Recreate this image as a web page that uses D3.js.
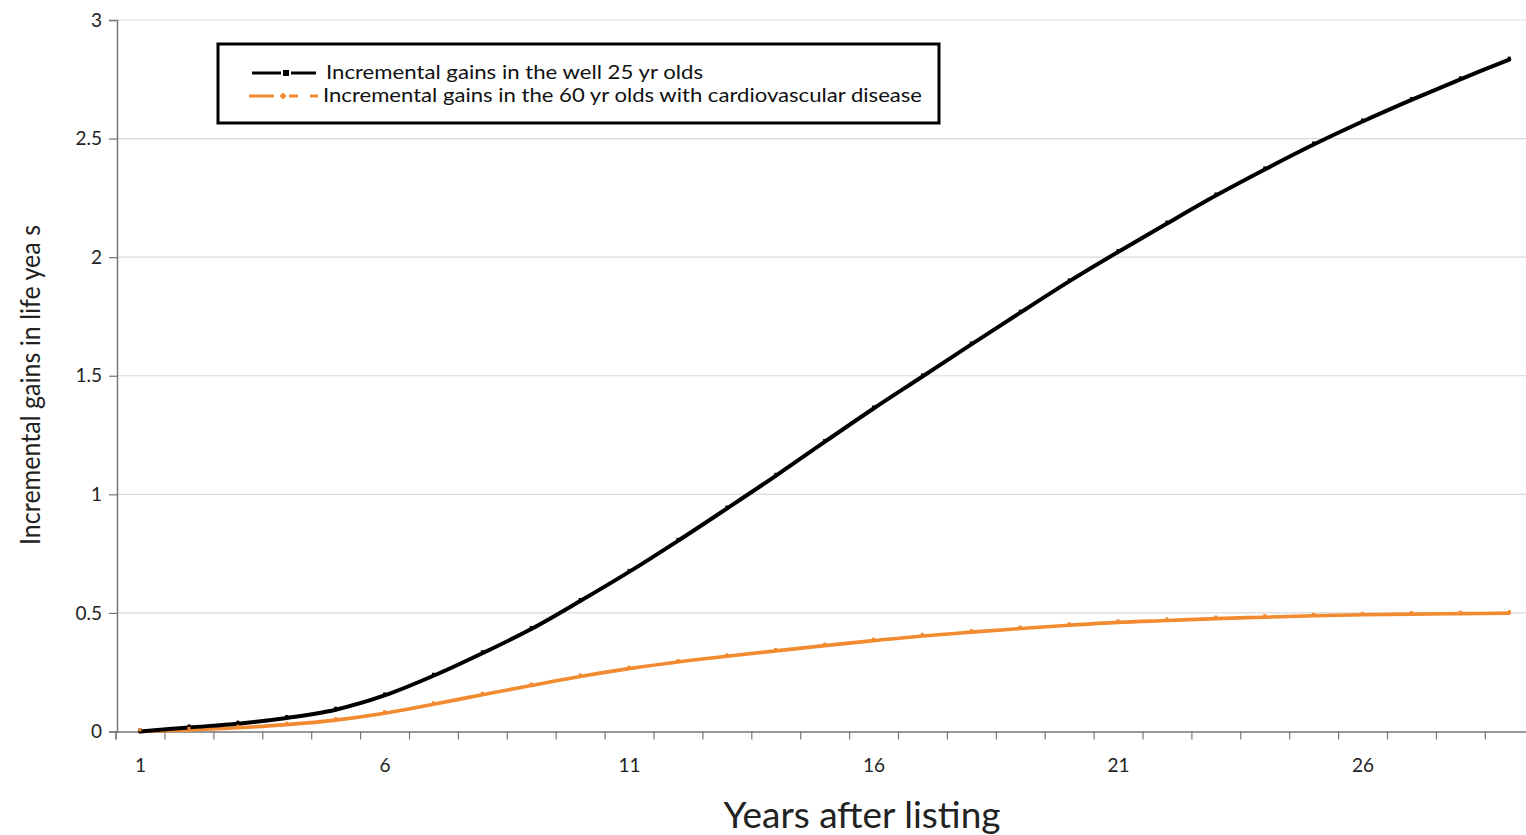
<!DOCTYPE html>
<html>
<head>
<meta charset="utf-8">
<script src="https://cdn.jsdelivr.net/npm/d3@7"></script>
<style>
  body { margin: 0; background: #fff; }
  svg { display: block; }
</style>
</head>
<body>
<svg width="1526" height="835"></svg>
<script>
// years after listing (categories)
let years = d3.range(1, 30);
// well 25 yr olds
let wellGains = [0, 0.017, 0.033, 0.057, 0.092, 0.152, 0.235, 0.33, 0.432, 0.55,
  0.673, 0.804, 0.94, 1.078, 1.221, 1.362, 1.497, 1.632, 1.766, 1.898,
  2.022, 2.142, 2.26, 2.37, 2.475, 2.572, 2.663, 2.75, 2.833];
// 60 yr olds with cardiovascular disease
let cvdGains = [0, 0.007, 0.016, 0.029, 0.048, 0.077, 0.115, 0.155, 0.194, 0.232,
  0.265, 0.293, 0.317, 0.34, 0.362, 0.383, 0.403, 0.419, 0.434, 0.448,
  0.46, 0.468, 0.476, 0.482, 0.488, 0.492, 0.495, 0.497, 0.499];
let yTicks = [0, 0.5, 1, 1.5, 2, 2.5, 3];
let xLabels = [1, 6, 11, 16, 21, 26];
let legendLabels = [
  "Incremental gains in the well 25 yr olds",
  "Incremental gains in the 60 yr olds with cardiovascular disease"
];

let svg = d3.select("svg");
let font = "Lato, 'Open Sans', sans-serif";

let plotLeft = 117, plotTop = 20, plotBottom = 731.5;
let step = 48.9;

let x = d3.scaleLinear().domain([0.5, 29.5]).range([plotLeft - 1.4, plotLeft - 1.4 + 29 * step]);
let y = d3.scaleLinear().domain([0, 3]).range([plotBottom, plotTop]);

// gridlines
svg.append("g")
  .selectAll("line")
  .data(yTicks.slice(1))
  .enter()
  .append("line")
  .attr("x1", plotLeft).attr("x2", 1526)
  .attr("y1", (d) => y(d)).attr("y2", (d) => y(d))
  .attr("stroke", "#d9d9d9")
  .attr("stroke-width", 1.2);

// y axis
let yAxis = svg.append("g")
  .attr("transform", `translate(${plotLeft},0)`)
  .call(d3.axisLeft(y).tickValues(yTicks).tickSize(8).tickFormat(d3.format("")));
yAxis.select(".domain").attr("stroke", "#777").attr("stroke-width", 1.5);
yAxis.selectAll(".tick line").attr("stroke", "#777").attr("stroke-width", 1.2);
yAxis.selectAll(".tick text")
  .attr("font-family", font).attr("font-size", 19).attr("fill", "#222").attr("x", -15);

// x axis: ticks at category edges
let xAxis = svg.append("g")
  .attr("transform", `translate(0,${plotBottom})`)
  .call(d3.axisBottom(x).tickValues(d3.range(0.5, 29, 1)).tickSize(8).tickFormat(""));
xAxis.select(".domain").attr("stroke", "#777").attr("stroke-width", 1.5);
xAxis.selectAll(".tick line").attr("stroke", "#777").attr("stroke-width", 1.2);

let xLab = svg.append("g")
  .attr("transform", `translate(0,${plotBottom})`)
  .call(d3.axisBottom(x).tickValues(xLabels).tickSize(0).tickPadding(27));
xLab.select(".domain").remove();
xLab.selectAll(".tick text")
  .attr("font-family", font).attr("font-size", 19).attr("fill", "#222");

// axis titles
svg.append("text")
  .attr("transform", "translate(40,385) rotate(-90)")
  .attr("text-anchor", "middle")
  .attr("font-family", font)
  .attr("font-size", 26)
  .attr("fill", "#222")
  .attr("textLength", 320)
  .attr("lengthAdjust", "spacingAndGlyphs")
  .text("Incremental gains in life yea s");

svg.append("text")
  .attr("x", 862).attr("y", 828)
  .attr("text-anchor", "middle")
  .attr("font-family", font)
  .attr("font-size", 36)
  .attr("fill", "#222")
  .attr("textLength", 277)
  .attr("lengthAdjust", "spacingAndGlyphs")
  .text("Years after listing");

// series
let series = [
  { name: legendLabels[0], values: wellGains, color: "#000000", width: 4 },
  { name: legendLabels[1], values: cvdGains, color: "#f28a30", width: 3.6 }
];

let line = d3.line()
  .x((d, i) => x(years[i]))
  .y((d) => y(d))
  .curve(d3.curveCatmullRom.alpha(0.5));

svg.append("g")
  .selectAll("path")
  .data(series.slice().reverse())
  .enter()
  .append("path")
  .attr("d", (d) => line(d.values))
  .attr("fill", "none")
  .attr("stroke", (d) => d.color)
  .attr("stroke-width", (d) => d.width)
  .attr("stroke-linejoin", "round")
  .attr("stroke-linecap", "round");

// small markers
series.forEach((s) => {
  svg.append("g")
    .selectAll("rect")
    .data(s.values)
    .enter()
    .append("rect")
    .attr("x", (d, i) => x(years[i]) - 1.5)
    .attr("y", (d) => y(d) - 3)
    .attr("width", 3).attr("height", 3)
    .attr("fill", s.color);
});

// legend
let legend = svg.append("g");
legend.append("rect")
  .attr("x", 218).attr("y", 44)
  .attr("width", 721).attr("height", 79)
  .attr("fill", "#fff")
  .attr("stroke", "#000")
  .attr("stroke-width", 3);

let rows = legend.selectAll(".row")
  .data(series)
  .enter()
  .append("g")
  .attr("class", "row")
  .attr("transform", (d, i) => `translate(0,${73 + i * 23})`);

// line samples
rows.each(function (d, i) {
  let g = d3.select(this);
  if (i === 0) {
    g.append("line").attr("x1", 252).attr("x2", 281).attr("y1", 0).attr("y2", 0)
      .attr("stroke", d.color).attr("stroke-width", 3);
    g.append("rect").attr("x", 283).attr("y", -3).attr("width", 6).attr("height", 6).attr("fill", d.color);
    g.append("line").attr("x1", 291).attr("x2", 316).attr("y1", 0).attr("y2", 0)
      .attr("stroke", d.color).attr("stroke-width", 3);
  } else {
    g.append("line").attr("x1", 249).attr("x2", 274).attr("y1", 0).attr("y2", 0)
      .attr("stroke", d.color).attr("stroke-width", 3);
    g.append("path").attr("d", "M283,-3.5L286.5,0L283,3.5L279.5,0Z").attr("fill", d.color);
    g.append("line").attr("x1", 289).attr("x2", 298).attr("y1", 0).attr("y2", 0)
      .attr("stroke", d.color).attr("stroke-width", 3);
    g.append("line").attr("x1", 310).attr("x2", 318).attr("y1", 0).attr("y2", 0)
      .attr("stroke", d.color).attr("stroke-width", 3);
  }
});

rows.append("text")
  .attr("x", (d, i) => (i === 0 ? 326 : 323))
  .attr("y", 6)
  .attr("font-family", font)
  .attr("font-size", 19)
  .attr("fill", "#111")
  .attr("textLength", (d, i) => (i === 0 ? 377 : 599))
  .attr("lengthAdjust", "spacingAndGlyphs")
  .text((d) => d.name);
</script>
</body>
</html>
